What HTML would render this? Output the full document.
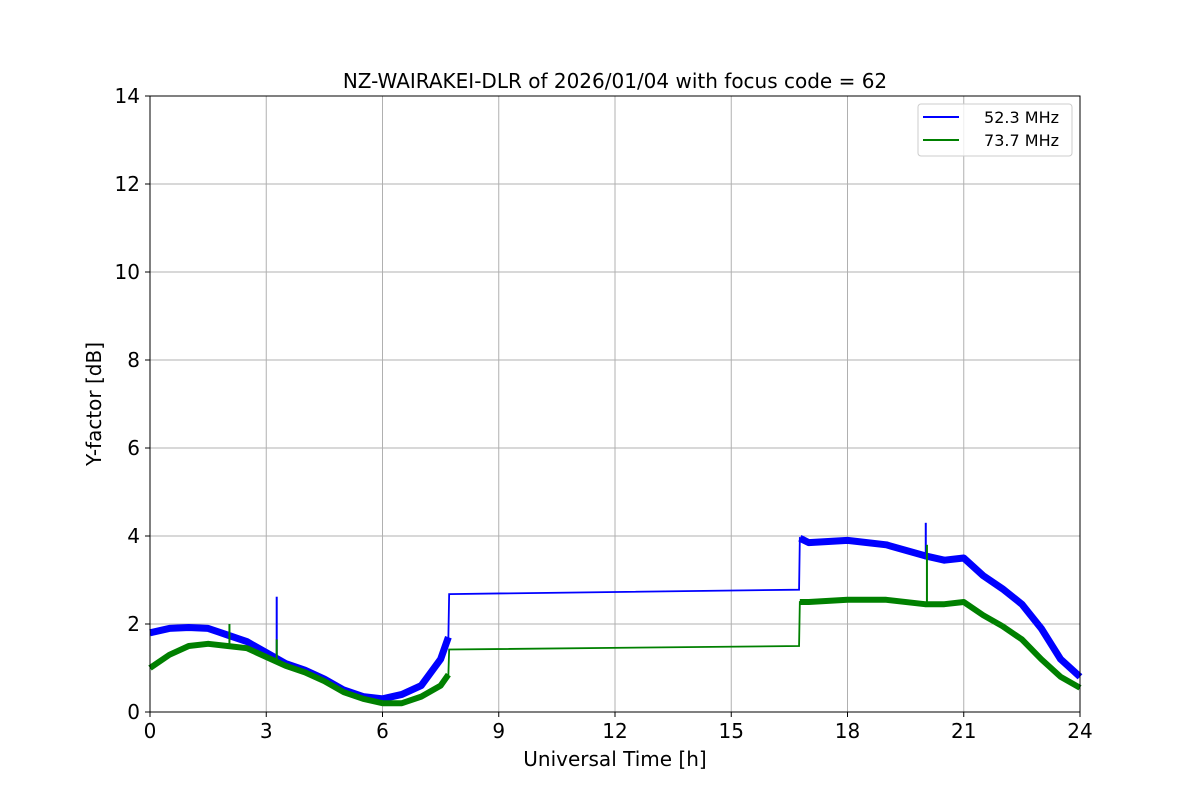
<!DOCTYPE html>
<html><head><meta charset="utf-8"><style>
body{margin:0;background:#fff;font-family:"DejaVu Sans","Liberation Sans",sans-serif}
</style></head><body>
<svg id="chart" width="1200" height="800" xmlns="http://www.w3.org/2000/svg" font-family="DejaVu Sans, Liberation Sans, sans-serif">
<rect width="1200" height="800" fill="#fff"/>
<g id="grid"></g>
<g id="series"></g>
<rect x="150" y="96" width="930" height="616" fill="none" stroke="#000" stroke-width="1"/>
<g id="ticks"></g>
<text x="615" y="88" font-size="20" text-anchor="middle">NZ-WAIRAKEI-DLR of 2026/01/04 with focus code = 62</text>
<text x="615" y="766" font-size="20" text-anchor="middle">Universal Time [h]</text>
<text transform="translate(101,404) rotate(-90)" font-size="20" text-anchor="middle">Y-factor [dB]</text>
<g>
<rect x="918" y="104" width="154" height="52" rx="3" fill="#fff" fill-opacity="0.8" stroke="#ccc"/>
<line x1="923" y1="117" x2="959" y2="117" stroke="blue" stroke-width="2"/>
<text x="1059" y="123" font-size="16" text-anchor="end">52.3 MHz</text>
<line x1="923" y1="140" x2="959" y2="140" stroke="green" stroke-width="2"/>
<text x="1059" y="146" font-size="16" text-anchor="end">73.7 MHz</text>
</g>
</svg>
<script>
const xTicks=[0,3,6,9,12,15,18,21,24];
const yTicks=[0,2,4,6,8,10,12,14];
const blueT=[0,0.5,1,1.5,2,2.5,3,3.5,4,4.5,5,5.5,6,6.5,7,7.5,7.7,7.72,16.75,16.77,17,18,19,20,20.5,21,21.5,22,22.5,23,23.5,24];
const blueV=[1.8,1.9,1.92,1.9,1.75,1.6,1.35,1.1,0.95,0.75,0.5,0.35,0.3,0.4,0.6,1.2,1.7,2.68,2.78,3.95,3.85,3.9,3.8,3.55,3.45,3.5,3.1,2.8,2.45,1.9,1.2,0.8];
const greenT=[0,0.5,1,1.5,2,2.5,3,3.5,4,4.5,5,5.5,6,6.5,7,7.5,7.7,7.72,16.75,16.77,17,18,19,20,20.5,21,21.5,22,22.5,23,23.5,24];
const greenV=[1.0,1.3,1.5,1.55,1.5,1.45,1.25,1.05,0.9,0.7,0.45,0.3,0.2,0.2,0.35,0.6,0.85,1.42,1.5,2.5,2.5,2.55,2.55,2.45,2.45,2.5,2.2,1.95,1.65,1.2,0.8,0.55];
const blueSpikes=[[3.27,1.2,2.62],[20.02,3.5,4.3]];
const greenSpikes=[[2.05,1.5,2.0],[3.27,1.2,1.65],[20.05,2.45,3.8]];
const X=t=>150+t/24*930, Y=v=>712-v/14*616;
const NS='http://www.w3.org/2000/svg';
function mk(tag,at,parent){const e=document.createElementNS(NS,tag);for(const k in at)e.setAttribute(k,at[k]);parent.appendChild(e);return e;}
const grid=document.getElementById('grid'),ticks=document.getElementById('ticks'),ser=document.getElementById('series');
xTicks.forEach(t=>{const l=mk('line',{x1:X(t),x2:X(t),y1:96,y2:712,stroke:'#b0b0b0','stroke-width':1},grid);

mk('line',{x1:X(t),x2:X(t),y1:712,y2:717,stroke:'#000'},ticks);
const tx=mk('text',{x:X(t),y:738,'font-size':20,'text-anchor':'middle'},ticks);tx.textContent=t;
});
yTicks.forEach(v=>{const l=mk('line',{x1:150,x2:1080,y1:Y(v),y2:Y(v),stroke:'#b0b0b0','stroke-width':1},grid);

mk('line',{x1:145,x2:150,y1:Y(v),y2:Y(v),stroke:'#000'},ticks);
const tx=mk('text',{x:140,y:Y(v)+7,'font-size':20,'text-anchor':'end'},ticks);tx.textContent=v;
});
function draw(T,V,spikes,color,w,name){
 const all=T.map((t,i)=>X(t)+','+Y(V[i])).join(' ');
 const p=mk('polyline',{points:all,fill:'none',stroke:color,'stroke-width':1.8},ser);
 
 const seg1=[],seg2=[];
 T.forEach((t,i)=>{if(t<=7.7)seg1.push(X(t)+','+Y(V[i]));else if(t>=16.77)seg2.push(X(t)+','+Y(V[i]));});
 [seg1,seg2].forEach(s=>{const q=mk('polyline',{points:s.join(' '),fill:'none',stroke:color,'stroke-width':w,'stroke-linejoin':'round'},ser);
 });
 spikes.forEach(s=>{const q=mk('line',{x1:X(s[0]),x2:X(s[0]),y1:Y(s[1]),y2:Y(s[2]),stroke:color,'stroke-width':2},ser);
 });
}
draw(blueT,blueV,blueSpikes,'blue',7,'series-52-3-mhz');
draw(greenT,greenV,greenSpikes,'green',6,'series-73-7-mhz');
</script>
</body></html>
